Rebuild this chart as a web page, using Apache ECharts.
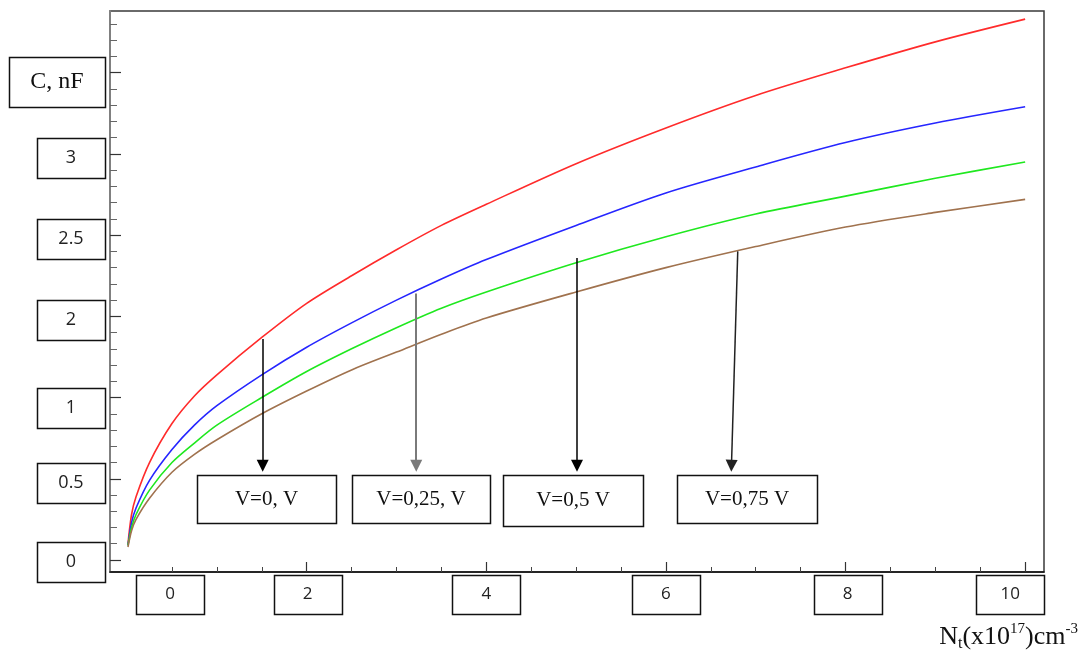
<!DOCTYPE html>
<html>
<head>
<meta charset="utf-8">
<script src="https://cdn.jsdelivr.net/npm/echarts@6/dist/echarts.min.js"></script>
<style>
  html, body { margin: 0; padding: 0; background: #fff; }
  #chart { width: 1084px; height: 657px; }
</style>
</head>
<body>
<div id="chart"></div>
<script>
// Capacitance C (nF) against trap density Nt (x10^17 cm^-3) for four bias voltages
const ntValues = [0.01, 0.05, 0.1, 0.25, 0.5, 0.75, 1, 1.5, 2, 2.5, 3, 3.5, 4, 5, 6, 7, 8, 9, 10];
const capV000 = [0.10, 0.28, 0.39, 0.60, 0.84, 1.01, 1.14, 1.37, 1.58, 1.75, 1.91, 2.06, 2.19, 2.44, 2.66, 2.86, 3.03, 3.19, 3.33];
const capV025 = [0.09, 0.23, 0.32, 0.49, 0.68, 0.83, 0.95, 1.14, 1.31, 1.46, 1.60, 1.73, 1.85, 2.06, 2.26, 2.42, 2.57, 2.69, 2.79];
const capV050 = [0.09, 0.20, 0.28, 0.43, 0.60, 0.72, 0.83, 1.00, 1.16, 1.30, 1.43, 1.55, 1.65, 1.83, 1.99, 2.13, 2.24, 2.35, 2.45];
const capV075 = [0.08, 0.18, 0.25, 0.38, 0.54, 0.65, 0.74, 0.90, 1.04, 1.17, 1.28, 1.39, 1.49, 1.65, 1.80, 1.93, 2.05, 2.14, 2.22];

// Tick label boxes
const xTickValues = [0, 2, 4, 6, 8, 10];
const xTickLabels = ['0', '2', '4', '6', '8', '10'];
const yBoxLabels = ['0', '0.5', '1', '2', '2.5', '3'];
const yAxisName = 'C, nF';

// Bias annotations: arrow start on the curves, arrow end above the label box
const annoText = ['V=0, V', 'V=0,25, V', 'V=0,5 V', 'V=0,75 V'];
const annoFromX = [1.51, 3.22, 5.01, 6.80];
const annoFromY = [1.36, 1.64, 1.86, 1.90];
const annoToX = [1.51, 3.22, 5.01, 6.73];
const annoToY = 0.58;

// ---- layout ----
const X_MIN = -0.19, X_MAX = 10.21;
const Y_MIN = -0.074, Y_MAX = 3.38;
const xBoxNudge = [43, 1, 0, 0, 2, -15];
const yBoxNudge = [2, 4, 10, 4, 4, 4];
const annoBoxes = [
  { l: 197, t: 475, w: 139, h: 48 },
  { l: 352, t: 475, w: 138, h: 48 },
  { l: 503, t: 475, w: 140, h: 51 },
  { l: 677, t: 475, w: 140, h: 48 }
];
const arrowColors = ['#000', '#7a7a7a', '#000', '#222'];
const SERIF = '"Liberation Serif", "Times New Roman", serif';
const SANS = '"Open Sans", "Liberation Sans", sans-serif';

function range(from, to, step) {
  const out = [];
  for (let i = 0; from + i * step <= to + 1e-9; i++) out.push(Math.round((from + i * step) * 100) / 100);
  return out;
}

const chart = echarts.init(document.getElementById('chart'), null, { renderer: 'canvas' });

function curve(values, color, withArrows) {
  const s = {
    type: 'line',
    data: ntValues.map((x, i) => [x, values[i]]),
    showSymbol: false,
    smooth: 0.3,
    lineStyle: { color: color, width: 1.6 },
    itemStyle: { color: color },
    silent: true,
    animation: false
  };
  if (withArrows) {
    s.markLine = {
      silent: true,
      animation: false,
      symbol: ['none', 'triangle'],
      symbolSize: 12,
      label: { show: false },
      emphasis: { disabled: true },
      data: annoText.map((t, i) => [
        { coord: [annoFromX[i], annoFromY[i]], lineStyle: { color: arrowColors[i], width: i === 1 ? 2 : 1.5, type: 'solid' }, itemStyle: { color: arrowColors[i] } },
        { coord: [annoToX[i], annoToY] }
      ])
    };
  }
  return s;
}

const axisBase = { type: 'value', gridIndex: 0, splitLine: { show: false }, axisLabel: { show: false } };

chart.setOption({
  animation: false,
  backgroundColor: '#fff',
  grid: { left: 110, top: 11, right: 40, bottom: 85, show: true, borderColor: '#3a3a3a', borderWidth: 1.5, backgroundColor: '#fff' },
  xAxis: [
    Object.assign({}, axisBase, {
      min: X_MIN, max: X_MAX, position: 'bottom',
      axisLine: { show: true, onZero: false, lineStyle: { color: '#111', width: 1.5 } },
      axisTick: { show: true, inside: true, length: 5, customValues: range(0.5, 10, 0.5), lineStyle: { color: '#444', width: 1 } }
    }),
    Object.assign({}, axisBase, {
      min: X_MIN, max: X_MAX, position: 'bottom',
      axisLine: { show: false, onZero: false },
      axisTick: { show: true, inside: true, length: 10, customValues: range(2, 10, 2), lineStyle: { color: '#333', width: 1.2 } }
    })
  ],
  yAxis: [
    Object.assign({}, axisBase, {
      min: Y_MIN, max: Y_MAX, position: 'left',
      axisLine: { show: true, onZero: false, lineStyle: { color: '#808080', width: 2 } },
      axisTick: { show: true, inside: true, length: 7, customValues: range(0, 3.3, 0.1), lineStyle: { color: '#666', width: 1 } }
    }),
    Object.assign({}, axisBase, {
      min: Y_MIN, max: Y_MAX, position: 'left',
      axisLine: { show: false, onZero: false },
      axisTick: { show: true, inside: true, length: 11, customValues: range(0, 3, 0.5), lineStyle: { color: '#333', width: 1.2 } }
    })
  ],
  series: [
    curve(capV000, '#ff2b2b', true),
    curve(capV025, '#2626ff', false),
    curve(capV050, '#1fe81f', false),
    curve(capV075, '#a0724e', false)
  ]
});

function box(cx, cy, w, h, text, font, color) {
  return {
    type: 'group',
    children: [
      { type: 'rect', shape: { x: Math.round(cx - w / 2) + 0.5, y: Math.round(cy - h / 2) + 0.5, width: w, height: h }, style: { fill: '#fff', stroke: '#111', lineWidth: 1.5 }, z: 10 },
      { type: 'text', style: { text: text, x: cx, y: cy, align: 'center', verticalAlign: 'middle', font: font, fill: color || '#222' }, z: 11 }
    ]
  };
}

const graphics = [];

// x tick label boxes under the axis
xTickValues.forEach((v, i) => {
  const px = chart.convertToPixel({ xAxisIndex: 0 }, v) + xBoxNudge[i];
  graphics.push(box(px, 594, 68, 39, xTickLabels[i], '17px ' + SANS, '#222'));
});

// y tick label boxes, each beside a successive major tick
yBoxLabels.forEach((t, i) => {
  const py = chart.convertToPixel({ yAxisIndex: 0 }, i * 0.5) + yBoxNudge[i];
  graphics.push(box(71, py, 68, 40, t, '18px ' + SANS, '#222'));
});

// axis name box
graphics.push(box(57, 82, 96, 50, yAxisName, '24px ' + SERIF, '#111'));

// bias annotation boxes
annoBoxes.forEach((b, i) => {
  graphics.push(box(b.l + b.w / 2, b.t + b.h / 2, b.w, b.h, annoText[i], '21px ' + SERIF, '#111'));
});

// x axis title with sub/superscripts
graphics.push({
  type: 'text',
  z: 12,
  style: {
    x: 1078, y: 637, align: 'right', verticalAlign: 'middle',
    text: '{m|N}{sub|t}{m|(x10}{sup|17}{m|)cm}{sup|-3}',
    rich: {
      m: { font: '26px ' + SERIF, fill: '#111', lineHeight: 30 },
      sub: { font: '16px ' + SERIF, fill: '#111', lineHeight: 16, verticalAlign: 'bottom' },
      sup: { font: '15px ' + SERIF, fill: '#111', lineHeight: 16, verticalAlign: 'top' }
    }
  }
});

chart.setOption({ graphic: graphics });
</script>
</body>
</html>
